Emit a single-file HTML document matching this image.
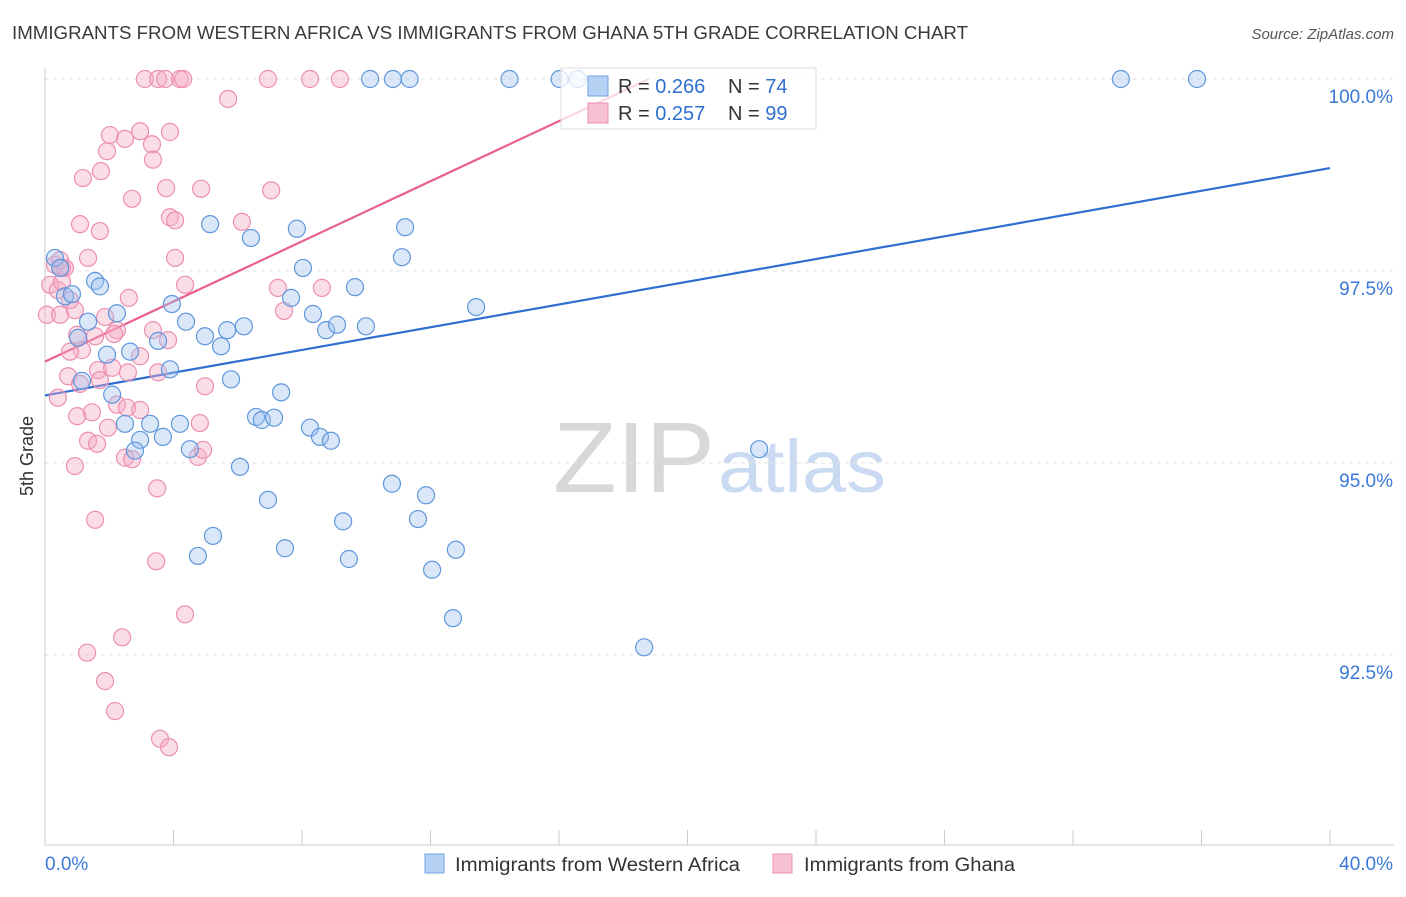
<!DOCTYPE html>
<html><head><meta charset="utf-8"><style>
body{margin:0;background:#fff;font-family:"Liberation Sans",sans-serif;}
svg text{font-family:"Liberation Sans",sans-serif;}
</style></head><body>
<svg id="chart" width="1406" height="892" xmlns="http://www.w3.org/2000/svg">
<text x="12" y="39" font-size="18" fill="#3a3a3a" textLength="956" lengthAdjust="spacingAndGlyphs">IMMIGRANTS FROM WESTERN AFRICA VS IMMIGRANTS FROM GHANA 5TH GRADE CORRELATION CHART</text>
<text x="1394" y="39" font-size="15" fill="#555" text-anchor="end" font-style="italic">Source: ZipAtlas.com</text>
<text transform="translate(33,456) rotate(-90)" font-size="18" fill="#333" text-anchor="middle">5th Grade</text>
<g>
<text x="553" y="492" font-size="100" fill="#d8d8d8" font-family="Liberation Serif,serif" textLength="162" lengthAdjust="spacingAndGlyphs">ZIP</text>
<text x="718" y="492" font-size="74" fill="#c9daf2" textLength="168" lengthAdjust="spacingAndGlyphs">atlas</text>
</g>
<g id="grid"></g><g id="axes"></g><g id="lines"></g><g id="pts"></g>
<g>
<rect x="561" y="68" width="255" height="61" fill="#fff" fill-opacity="0.75" stroke="#ddd"/>
<rect x="588" y="76" width="20" height="20" fill="#b5d1f3" stroke="#6fa3e0"/>
<text x="618" y="93" font-size="20" fill="#333">R = <tspan fill="#2f6fd0">0.266</tspan></text>
<text x="728" y="93" font-size="20" fill="#333">N = <tspan fill="#2f6fd0">74</tspan></text>
<rect x="588" y="103" width="20" height="20" fill="#f7c1d3" stroke="#ec8fb0"/>
<text x="618" y="120" font-size="20" fill="#333">R = <tspan fill="#2f6fd0">0.257</tspan></text>
<text x="728" y="120" font-size="20" fill="#333">N = <tspan fill="#2f6fd0">99</tspan></text>
</g>
<g>
<rect x="425" y="854" width="19" height="19" fill="#b5d1f3" stroke="#6fa3e0"/>
<text x="455" y="871" font-size="19" fill="#333" textLength="285" lengthAdjust="spacingAndGlyphs">Immigrants from Western Africa</text>
<rect x="773" y="854" width="19" height="19" fill="#f7c1d3" stroke="#ec8fb0"/>
<text x="804" y="871" font-size="19" fill="#333" textLength="211" lengthAdjust="spacingAndGlyphs">Immigrants from Ghana</text>
</g>
</svg>
<script>
const yTicks=[100,97.5,95,92.5];
const yTickLabels=["100.0%","97.5%","95.0%","92.5%"];
const xEndLabels=["0.0%","40.0%"];
const blueX=[10.12,10.83,11.35,14.46,16.02,16.58,33.49,35.86,0.31,0.47,1.56,1.71,0.62,0.84,2.24,1.34,1.03,1.93,2.65,3.52,3.89,1.15,2.09,2.49,3.27,2.96,3.67,2.80,3.95,4.39,4.20,4.51,4.98,5.14,5.48,5.67,6.19,6.41,5.79,6.07,6.57,6.75,7.13,7.35,7.66,7.84,8.03,8.34,8.75,9.09,8.25,8.56,8.90,9.65,9.99,11.11,11.21,13.42,6.94,5.23,4.76,7.47,9.28,9.46,10.80,11.86,11.61,12.05,12.79,12.70,18.65,22.23];
const blueY=[100,100,100,100,100,100,100,100,97.67,97.54,97.37,97.30,97.17,97.20,96.95,96.84,96.63,96.41,96.45,96.59,96.22,96.07,95.89,95.51,95.51,95.30,95.34,95.16,97.07,96.84,95.51,95.18,96.65,98.11,96.52,96.73,96.78,97.93,96.09,94.95,95.60,95.56,95.59,95.92,97.15,98.05,97.54,96.94,96.73,96.80,95.46,95.34,95.29,97.29,96.78,97.68,98.07,97.03,94.52,94.05,93.79,93.89,94.24,93.75,94.73,94.58,94.27,93.61,93.87,92.98,92.60,95.18];
const pinkX=[3.11,3.52,3.74,4.20,4.30,6.94,8.25,9.18,5.70,2.02,2.49,2.96,3.89,1.93,3.33,3.36,1.18,1.74,2.71,3.77,4.86,7.04,1.09,1.71,3.89,4.05,6.13,4.05,0.31,0.62,1.34,0.16,0.40,0.53,0.78,0.06,0.47,0.93,4.36,7.25,8.62,7.44,2.61,1.87,2.24,1.00,1.56,1.15,0.78,2.15,3.36,3.83,2.96,1.65,2.09,2.58,0.72,1.09,0.40,1.71,3.52,4.98,2.24,2.96,1.46,1.00,1.96,2.55,4.82,1.34,1.62,2.49,2.71,4.76,4.92,0.93,3.49,1.56,4.36,3.46,2.40,1.31,1.87,2.18,3.58,3.86,0.47,0.53];
const pinkY=[100,100,100,100,100,100,100,100,99.74,99.27,99.22,99.32,99.31,99.06,99.15,98.95,98.71,98.80,98.44,98.58,98.57,98.55,98.11,98.02,98.20,98.16,98.14,97.67,97.58,97.54,97.67,97.32,97.25,97.36,97.12,96.93,96.93,96.99,97.32,97.28,97.28,96.98,97.15,96.90,96.73,96.67,96.65,96.47,96.45,96.68,96.73,96.60,96.39,96.21,96.24,96.18,96.13,96.03,95.85,96.08,96.18,96.00,95.76,95.69,95.66,95.61,95.46,95.72,95.52,95.29,95.25,95.07,95.05,95.08,95.17,94.96,94.67,94.26,93.03,93.72,92.73,92.53,92.16,91.77,91.41,91.30,97.64,97.54];
const blueTrend=[[0,95.88],[40,98.84]];
const pinkTrend=[[0,96.32],[18.8,100]];
const NS="http://www.w3.org/2000/svg";
const X0=45,X1=1330,Y100=79,PXPER=76.8;
function sx(v){return X0+(v/40)*(X1-X0);}
function sy(v){return Y100+(100-v)*PXPER;}
function mk(tag,attrs,parent){const e=document.createElementNS(NS,tag);for(const k in attrs)e.setAttribute(k,attrs[k]);document.getElementById(parent).appendChild(e);return e;}
yTicks.forEach((t,i)=>{
 const l=mk('line',{x1:X0,x2:1394,y1:sy(t),y2:sy(t),stroke:'#e2e2e2','stroke-dasharray':'4,4'},'grid');
 
 
 const tx=mk('text',{x:1393,y:sy(t)+24,'font-size':19,fill:'#3b78d8','text-anchor':'end'},'grid');
 tx.textContent=yTickLabels[i];
 
 
});
const ax=mk('line',{x1:X0,x2:X0,y1:68,y2:845,stroke:'#ccc'},'axes');


const bx=mk('line',{x1:X0,x2:1394,y1:845,y2:845,stroke:'#ccc'},'axes');


for(let i=0;i<=10;i++){const t=mk('line',{x1:sx(i*4),x2:sx(i*4),y1:830,y2:845,stroke:'#ccc'},'axes');
 
 }
const xl0=mk('text',{x:45,y:870,'font-size':19,fill:'#3b78d8'},'axes');xl0.textContent=xEndLabels[0];


const xl1=mk('text',{x:1393,y:870,'font-size':19,fill:'#3b78d8','text-anchor':'end'},'axes');xl1.textContent=xEndLabels[1];


function pts(xs,ys,fill,stroke,name){xs.forEach((x,i)=>{const c=mk('circle',{cx:sx(x),cy:sy(ys[i]),r:8.5,fill:fill,'fill-opacity':0.4,stroke:stroke,'stroke-width':1.2},'pts');
 
 });}
pts(pinkX,pinkY,'#f4a9c2','#ec8fb0','point-ghana');
pts(blueX,blueY,'#9fc3ef','#5f97dc','point-western-africa');
const bl=mk('line',{x1:sx(blueTrend[0][0]),y1:sy(blueTrend[0][1]),x2:sx(blueTrend[1][0]),y2:sy(blueTrend[1][1]),stroke:'#2f6fd0','stroke-width':2.2},'lines');


const pl=mk('line',{x1:sx(pinkTrend[0][0]),y1:sy(pinkTrend[0][1]),x2:sx(pinkTrend[1][0]),y2:sy(pinkTrend[1][1]),stroke:'#e8608f','stroke-width':2.2},'lines');


</script>
</body></html>
